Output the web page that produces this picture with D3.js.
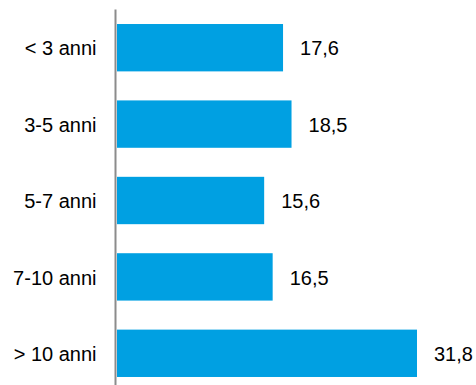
<!DOCTYPE html>
<html>
<head>
<meta charset="utf-8">
<script src="https://cdn.jsdelivr.net/npm/d3@7"></script>
<style>
  html, body { margin: 0; padding: 0; background: #fff; }
  svg { display: block; }
  text { font-family: "Liberation Sans", Arial, sans-serif; fill: #000; }
</style>
</head>
<body>
<script>
// Quote per fascia di anzianità
const categories = ["< 3 anni", "3-5 anni", "5-7 anni", "7-10 anni", "> 10 anni"];
const values = [17.6, 18.5, 15.6, 16.5, 31.8];

const width = 476, height = 385;
const axisX = 115.5;
const barX0 = 117;

const svg = d3.select("body").append("svg")
  .attr("width", width)
  .attr("height", height);

const x = d3.scaleLinear()
  .domain([0, 31.8])
  .range([barX0, 417]);

const y = d3.scaleBand()
  .domain(categories)
  .range([9.5, 391.5])
  .paddingInner(0.38)
  .paddingOuter(0.19);

const fmt = v => d3.format(".1f")(v).replace(".", ",");

// bars
svg.append("g")
  .selectAll("rect")
  .data(values)
  .join("rect")
  .attr("x", x(0))
  .attr("y", (d, i) => y(categories[i]))
  .attr("width", d => x(d) - x(0))
  .attr("height", y.bandwidth())
  .attr("fill", "#00a0e2");

// value labels
svg.append("g")
  .selectAll("text")
  .data(values)
  .join("text")
  .attr("x", d => x(d) + 17)
  .attr("y", (d, i) => y(categories[i]) + y.bandwidth() / 2)
  .attr("dy", "0.38em")
  .attr("font-size", 20)
  .text(fmt);

// category axis
const yAxis = d3.axisLeft(y).tickSize(0).tickPadding(19);
const gAxis = svg.append("g")
  .attr("transform", `translate(${axisX},0)`)
  .call(yAxis);
gAxis.select(".domain").remove();
gAxis.selectAll("text")
  .attr("font-size", 20)
  .attr("font-family", "'Liberation Sans', Arial, sans-serif")
  .attr("fill", "#000")
  .attr("dy", "0.38em");

svg.append("line")
  .attr("x1", axisX).attr("x2", axisX)
  .attr("y1", 9.5).attr("y2", height)
  .attr("stroke", "#8c8c8c")
  .attr("stroke-width", 2);
</script>
</body>
</html>
